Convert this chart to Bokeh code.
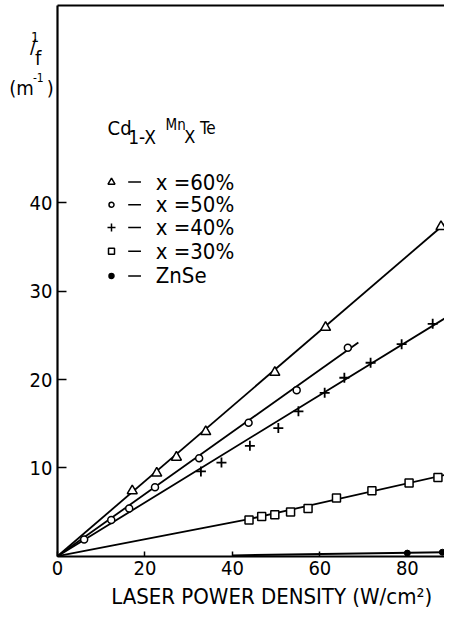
from bokeh.plotting import figure
from bokeh.models import FixedTicker, Label, LinearAxis
from bokeh.embed import file_html
from bokeh.resources import INLINE

FONT = "DejaVu Sans Condensed"

# ---------------- data ----------------
x_ticks = [0, 20, 40, 60, 80]
y_ticks = [10, 20, 30, 40]

tri_x = [17.1, 22.7, 27.2, 33.9, 49.7, 61.3, 87.7]          # x = 60 %
tri_y = [7.4, 9.4, 11.2, 14.1, 20.8, 25.9, 37.3]
tri_fit_x = [0, 88.5]
tri_fit_y = [0, 37.6]

circ_x = [6.1, 12.3, 16.4, 22.3, 32.4, 43.7, 54.7, 66.4]     # x = 50 %
circ_y = [1.9, 4.1, 5.4, 7.8, 11.1, 15.1, 18.8, 23.6]
circ_fit_x = [0, 68.8]
circ_fit_y = [0, 24.2]

plus_x = [32.8, 37.5, 44.0, 50.5, 55.1, 61.1, 65.6, 71.6, 78.7, 85.8]  # x = 40 %
plus_y = [9.6, 10.6, 12.5, 14.5, 16.4, 18.5, 20.2, 21.9, 24.0, 26.3]
plus_fit_x = [0, 88.5]
plus_fit_y = [0, 26.9]

sq_x = [43.8, 46.7, 49.7, 53.3, 57.3, 63.8, 71.9, 80.4, 87.0]  # x = 30 %
sq_y = [4.1, 4.5, 4.7, 5.0, 5.4, 6.6, 7.4, 8.3, 8.9]
sq_fit_x = [0, 43.8, 88.5]
sq_fit_y = [0, 4.2, 9.2]

znse_x = [80, 88]                                            # ZnSe
znse_y = [0.35, 0.45]
znse_fit_x = [40, 88.5]
znse_fit_y = [0.1, 0.45]

legend_labels = ["x =60%", "x =50%", "x =40%", "x =30%", "ZnSe"]
x_label = "LASER POWER DENSITY (W/cm²)"

# ---------------- layout ----------------
W, H = 444, 610            # figure size (fits the window with its 8px margin)
REF_W, REF_H = 452, 618    # size of the reference picture
OX, OY = 58, 563           # reference pixel of the data origin
KX, KY = 4.452, 8.95       # reference pixels per data unit


def dx(rx):
    return (rx - OX) / KX


def dy(ry):
    return (OY - ry) / KY


X0, X1 = dx(0), dx(REF_W)
Y0, Y1 = dy(REF_H), dy(0)
Y_TOP = dy(5)

p = figure(width=W, height=H, x_range=(X0, X1), y_range=(Y0, Y1),
           output_backend="svg", toolbar_location=None, min_border=0,
           min_border_left=0, min_border_right=0, min_border_top=0, min_border_bottom=0)
p.outline_line_color = None
p.grid.visible = False

p.xaxis.fixed_location = 0
p.yaxis.fixed_location = 0
p.xaxis.bounds = (0, X1)
p.yaxis.bounds = (0, Y_TOP)

for ax, ticks in ((p.xaxis, x_ticks), (p.yaxis, y_ticks)):
    ax.ticker = FixedTicker(ticks=ticks)
    ax.axis_line_width = 2.2
    ax.axis_line_color = "black"
    ax.major_tick_out = 0
    ax.minor_tick_in = 0
    ax.minor_tick_out = 0
    ax.major_tick_line_width = 1.5
    ax.major_tick_line_color = "black"
    ax.major_label_text_font = FONT
    ax.major_label_text_font_size = "20px"
    ax.major_label_text_color = "black"
p.xaxis.major_tick_in = 5
p.yaxis.major_tick_in = 9
p.xaxis.major_label_standoff = 5
p.yaxis.major_label_standoff = 5

top = LinearAxis(fixed_location=Y_TOP, bounds=(0, X1), ticker=FixedTicker(ticks=[]),
                 major_label_text_font_size="0px", axis_line_width=2.2,
                 axis_line_color="black", major_tick_in=0, major_tick_out=0,
                 minor_tick_in=0, minor_tick_out=0)
p.add_layout(top, "above")

LW = 1.8
# fit lines
p.line(tri_fit_x, tri_fit_y, line_color="black", line_width=LW)
p.line(circ_fit_x, circ_fit_y, line_color="black", line_width=LW)
p.line(plus_fit_x, plus_fit_y, line_color="black", line_width=LW)
p.line(sq_fit_x, sq_fit_y, line_color="black", line_width=LW)
p.line(znse_fit_x, znse_fit_y, line_color="black", line_width=LW)

# data points
p.scatter(tri_x, tri_y, marker="triangle", size=10, fill_color="white",
          line_color="black", line_width=1.5)
p.scatter(circ_x, circ_y, marker="circle", size=7, fill_color="white",
          line_color="black", line_width=1.5)
p.scatter(plus_x, plus_y, marker="cross", size=10, line_color="black", line_width=1.8)
p.scatter(sq_x, sq_y, marker="square", size=8, fill_color="white",
          line_color="black", line_width=1.5)
p.scatter(znse_x, znse_y, marker="circle", size=6, fill_color="black", line_color="black")

# ---------------- legend (hand-made) ----------------
rows_py = [184, 207, 230, 254, 279]
mk = ["triangle", "circle", "cross", "square", "circle"]
mk_size = [7, 5, 8, 6, 5]
mk_fill = ["white", "white", "black", "white", "black"]
for i, lab in enumerate(legend_labels):
    yy = dy(rows_py[i])
    p.scatter([dx(113)], [yy], marker=mk[i], size=mk_size[i], fill_color=mk_fill[i],
              line_color="black", line_width=1.5)
    p.segment(x0=[dx(130)], y0=[yy], x1=[dx(143)], y1=[yy], line_color="black", line_width=1.5)
    p.add_layout(Label(x=dx(158), y=yy, text=lab, text_font=FONT, text_font_size="22px",
                       text_baseline="middle", text_align="left", text_color="black"))

# formula title Cd1-X MnX Te
for txt, px, py, fs in (("Cd", 109, 129, "20px"), ("1-X", 130, 138, "19px"),
                        ("Mn", 168, 126, "15px"), ("X", 187, 138, "18px"),
                        ("Te", 203, 129, "17px")):
    p.add_layout(Label(x=dx(px), y=dy(py), text=txt, text_font=FONT, text_font_size=fs,
                       text_baseline="alphabetic", text_align="left", text_color="black"))

# y-axis quantity 1/f (m^-1)
for txt, px, py, fs in (("1", 31, 37, "14px"), ("/", 30, 46, "20px"), ("f", 35, 58, "20px"),
                        ("(m", 9, 89, "20px"), ("-1", 33, 78, "12px"), (")", 47, 89, "20px")):
    p.add_layout(Label(x=dx(px), y=dy(py), text=txt, text_font=FONT, text_font_size=fs,
                       text_baseline="alphabetic", text_align="left", text_color="black"))

# x-axis title
p.add_layout(Label(x=dx(276), y=dy(604), text=x_label, text_font=FONT, text_font_size="22px",
                   text_baseline="alphabetic", text_align="center", text_color="black"))

open("out.html", "w").write(file_html(p, INLINE))
